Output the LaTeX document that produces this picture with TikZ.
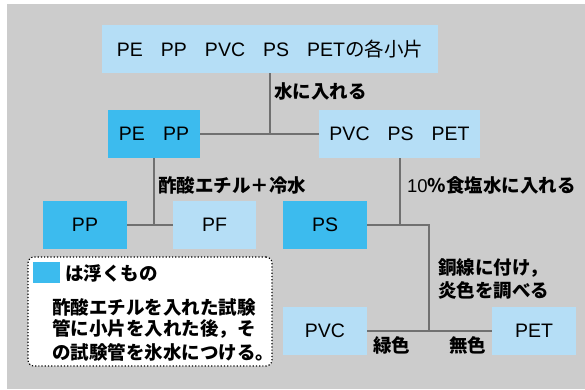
\documentclass[tikz,border=0pt]{standalone}
\usepackage{fontspec}
\setmainfont{Liberation Sans}
\newfontfamily\cjk{Noto Sans CJK JP}
\definecolor{bgc}{HTML}{CCCCCC}
\definecolor{lbc}{HTML}{B5DEF6}
\definecolor{dbc}{HTML}{3CBBEE}
\definecolor{lnc}{HTML}{707070}
\newcommand{\gp}{\hspace{18pt}}
\begin{document}
\begin{tikzpicture}[x=1pt,y=-1pt,
  box/.style={minimum height=48pt, inner sep=0, text=black, font=\fontsize{19.5}{22}\selectfont},
  lbox/.style={box, fill=lbc},
  dbox/.style={box, fill=dbc},
  lab/.style={anchor=west, inner sep=0, text=black, font=\cjk\bfseries\fontsize{18.5}{22}\selectfont},
  conn/.style={draw=lnc, line width=2pt}]
\useasboundingbox (0,0) rectangle (585,389);
\fill[bgc] (7,4) rectangle (585,389);

\node[lbox, minimum width=336pt] (top) at (270,49) {PE\gp PP\gp PVC\gp PS\gp PET{\cjk の各小片}};
\node[dbox, minimum width=92pt] (pepp) at (154,134) {PE\gp PP};
\node[lbox, minimum width=161pt] (pvc3) at (399.5,134) {PVC\gp PS\gp PET};
\node[dbox, minimum width=84pt] (pp) at (85,225) {PP};
\node[lbox, minimum width=83pt] (pf) at (214.5,225) {PF};
\node[dbox, minimum width=84pt] (ps) at (325,225) {PS};
\node[lbox, minimum width=84pt] (pvc) at (325,331) {PVC};
\node[lbox, minimum width=84pt] (pet) at (534,331) {PET};

\draw[conn] (top.south) -- (top.south |- pepp.east);
\draw[conn] (pepp.east) -- (pvc3.west);
\draw[conn] (pepp.south) -- (pepp.south |- pp.east);
\draw[conn] (pp.east) -- (pf.west);
\draw[conn] (pvc3.south) -- (pvc3.south |- ps.east);
\coordinate (turn) at (429,225);
\draw[conn] (ps.east) -- (turn) -- (turn |- pvc.east);
\draw[conn] (pvc.east) -- (pet.west);

\node[lab] (l1) at (274,91) {水に入れる};
\node[lab] (l2) at (158,185) {酢酸エチル＋冷水};
\node[lab] (l3) at (407,185) {{\normalfont 10}％食塩水に入れる};
\node[lab] (l4) at (438,268) {銅線に付け，};
\node[lab] (l5) at (438,290) {炎色を調べる};
\node[lab] (l6) at (373,345) {緑色};
\node[lab] (l7) at (449,345) {無色};

\node[draw=black, dotted, line width=1.2pt, rounded corners=6pt, fill=white,
      minimum width=244pt, minimum height=109pt, inner sep=0] (leg) at (150,311.5) {};
\node[fill=dbc, minimum width=27pt, minimum height=21pt, inner sep=0] (sw) at (46.5,272.5) {};
\node[lab] (lt) at (65,273) {は浮くもの};
\node[lab] (b1) at (52,307) {酢酸エチルを入れた試験};
\node[lab] (b2) at (52,329) {管に小片を入れた後，そ};
\node[lab] (b3) at (52,352) {の試験管を氷水につける。};
\end{tikzpicture}
\end{document}
